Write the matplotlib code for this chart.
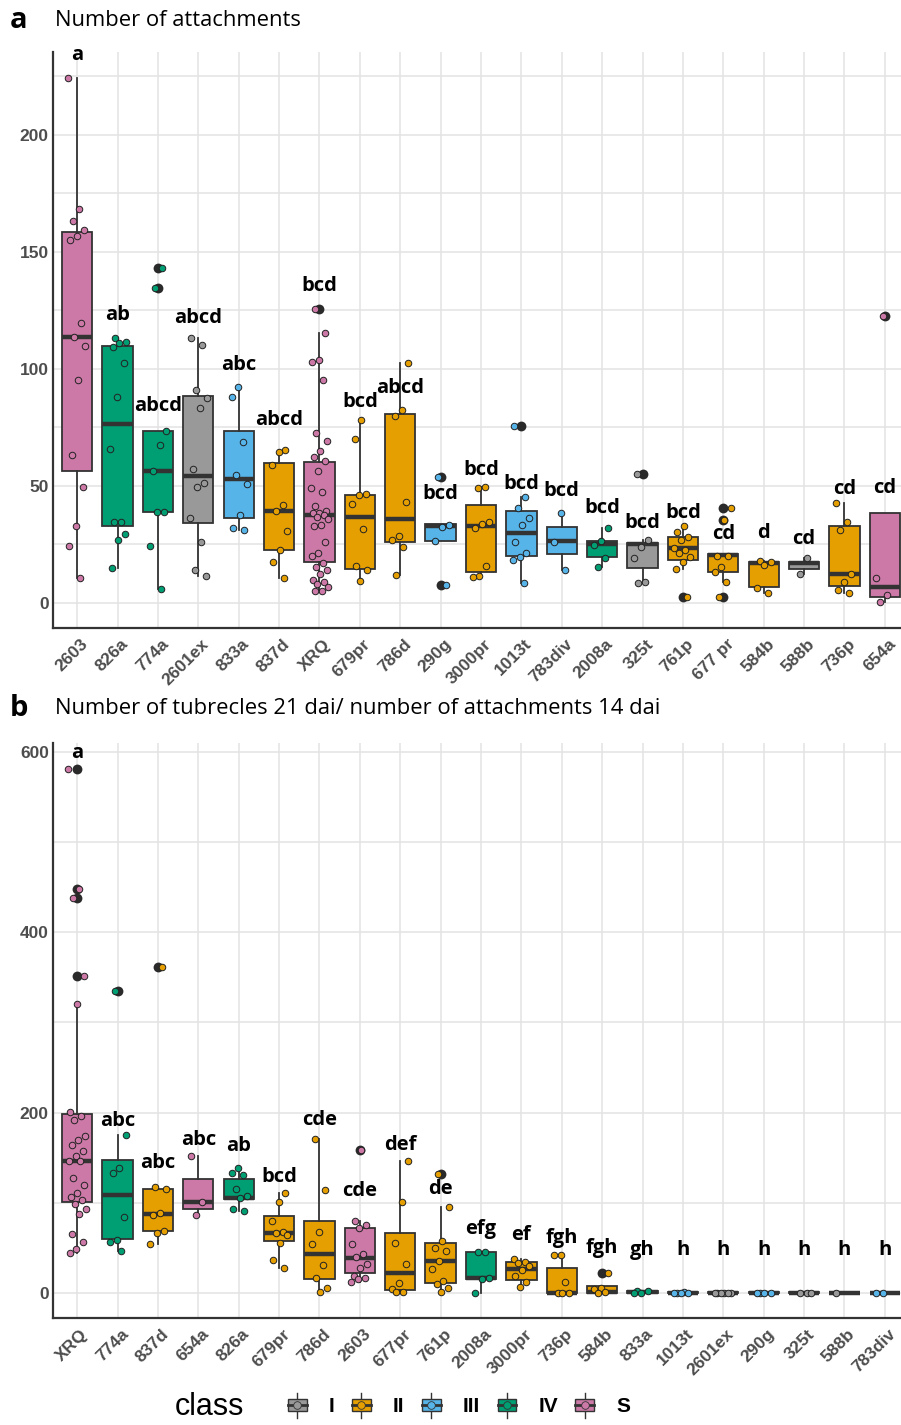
import numpy as np
import matplotlib
matplotlib.use("Agg")
import matplotlib.pyplot as plt
import matplotlib.transforms as mtransforms
from matplotlib.patches import Rectangle
from matplotlib.lines import Line2D
from matplotlib.legend_handler import HandlerBase
from matplotlib.ticker import FixedLocator
from matplotlib.font_manager import FontProperties

# ---------------------------------------------------------------- data
class_names = ["I", "II", "III", "IV", "S"]
class_colors = ["#999999", "#E69F00", "#56B4E9", "#009E73", "#CC79A7"]

# Panel a: number of attachments
cats_a = ["2603", "826a", "774a", "2601ex", "833a", "837d", "XRQ", "679pr", "786d",
          "290g", "3000pr", "1013t", "783div", "2008a", "325t", "761p", "677 pr",
          "584b", "588b", "736p", "654a"]
class_a = ["S", "IV", "IV", "I", "III", "II", "S", "II", "II", "III", "II", "III",
           "III", "IV", "I", "II", "II", "II", "I", "II", "S"]
q1_a = [56.3, 33.0, 38.9, 34.0, 36.1, 22.6, 17.3, 14.5, 25.8, 26.6, 13.3, 20.0,
        20.7, 19.4, 14.7, 18.3, 13.3, 6.6, 14.4, 7.1, 2.6]
med_a = [113.6, 76.4, 56.4, 54.3, 52.9, 39.3, 37.3, 36.6, 35.8, 32.9, 32.6, 30.0,
         26.4, 25.0, 25.0, 23.6, 20.4, 16.9, 16.9, 12.3, 6.9]
q3_a = [158.3, 109.7, 73.3, 88.4, 73.3, 59.6, 60.3, 46.2, 80.6, 33.6, 41.9, 39.4,
        32.4, 26.4, 25.7, 28.3, 20.9, 17.3, 17.6, 32.9, 38.3]
lo_a = [10.4, 15.0, 6.0, 11.3, 31.1, 10.7, 5.0, 9.3, 11.8, 26.6, 11.1, 8.6,
        14.0, 15.4, 8.6, 14.4, 9.0, 4.0, 12.3, 4.3, 0.4]
hi_a = [224.4, 113.3, 73.3, 113.1, 92.3, 65.4, 115.5, 78.3, 102.3, 33.6, 49.4, 45.3,
        38.3, 31.9, 26.9, 32.6, 20.9, 17.9, 19.0, 42.6, 38.3]
pts_a = [
    [224.4, 168.2, 163.1, 159.3, 156.7, 155.0, 119.4, 113.6, 109.6, 95.3, 63.1, 49.3, 32.9, 24.3, 10.4],
    [113.3, 111.4, 111.0, 109.3, 102.6, 87.9, 65.7, 34.3, 34.3, 29.3, 26.9, 15.0],
    [143.1, 134.5, 73.3, 67.3, 56.4, 38.7, 38.9, 24.3, 6.0],
    [113.1, 110.1, 91.1, 87.7, 83.3, 57.1, 51.3, 49.3, 36.1, 26.1, 13.9, 11.3],
    [92.1, 88.0, 68.6, 54.7, 50.9, 37.7, 32.1, 31.1],
    [65.4, 64.6, 59.0, 41.6, 39.4, 30.6, 22.6, 17.6, 10.7],
    [125.4, 115.5, 103.7, 102.7, 95.2, 72.4, 69.0, 65.0, 62.4, 60.4, 56.4, 48.9, 47.3, 41.5,
     39.2, 38.2, 38.2, 37.3, 36.5, 36.0, 33.1, 32.6, 25.8, 21.4, 20.1, 17.0, 15.4, 14.0,
     12.3, 9.8, 8.8, 7.8, 6.7, 5.0, 5.0],
    [78.3, 70.0, 46.6, 46.2, 42.3, 31.5, 15.5, 14.1, 9.3],
    [102.3, 82.2, 80.0, 43.2, 28.5, 26.8, 23.9, 11.8],
    [53.6, 33.1, 32.3, 26.6, 7.6],
    [49.4, 49.1, 34.7, 33.5, 32.1, 15.7, 11.6, 11.1],
    [75.7, 45.3, 40.4, 36.1, 33.1, 26.1, 21.1, 19.7, 18.3, 8.6],
    [38.3, 26.1, 14.0],
    [31.9, 26.4, 24.7, 19.0, 15.4],
    [55.1, 26.9, 24.0, 19.3, 9.0, 8.6],
    [32.6, 30.1, 28.3, 26.9, 23.3, 22.6, 21.4, 19.7, 17.3, 14.4, 2.6],
    [40.4, 35.4, 20.1, 20.1, 15.1, 13.3, 9.0, 2.6],
    [17.9, 17.3, 16.1, 6.4, 4.0],
    [19.0, 12.3],
    [42.6, 34.7, 31.1, 12.3, 8.7, 5.4, 4.3],
    [122.5, 10.4, 3.3, 0.4],
]
letters_a = ["a", "ab", "abcd", "abcd", "abc", "abcd", "bcd", "bcd", "abcd", "bcd", "bcd",
             "bcd", "bcd", "bcd", "bcd", "bcd", "cd", "d", "cd", "cd", "cd"]
letter_y_a = [234, 122.9, 84, 121.5, 101.6, 78.1, 135.3, 85.9, 91.9, 46.5, 56.7, 50.7,
              47.9, 40.3, 33.9, 38.2, 29.4, 29.7, 27.1, 48.5, 48.9]

# Panel b: tubercles at 21 dai per attachment at 14 dai
cats_b = ["XRQ", "774a", "837d", "654a", "826a", "679pr", "786d", "2603", "677pr", "761p",
          "2008a", "3000pr", "736p", "584b", "833a", "1013t", "2601ex", "290g", "325t",
          "588b", "783div"]
class_b = ["S", "IV", "II", "S", "IV", "II", "II", "S", "II", "II", "IV", "II", "II", "II",
           "IV", "III", "I", "III", "I", "I", "III"]
q1_b = [100.7, 59.3, 68.5, 92.6, 104.4, 57.4, 14.8, 22.2, 2.6, 10.4, 15.2, 14.1, 0.0, 0.0,
        0.0, 0.0, 0.0, 0.0, 0.0, 0.0, 0.0]
med_b = [145.9, 108.1, 87.0, 100.7, 105.6, 66.7, 42.5, 38.8, 21.4, 35.1, 15.9, 25.9, 0.0, 1.1,
         0.5, 0.0, 0.0, 0.0, 0.0, 0.0, 0.0]
q3_b = [198.9, 147.4, 115.6, 125.9, 125.9, 85.2, 79.5, 72.1, 66.6, 55.5, 45.5, 34.4, 27.0, 7.4,
        1.5, 0.4, 0.4, 0.4, 0.4, 0.0, 0.0]
lo_b = [44.4, 46.3, 53.7, 85.9, 91.1, 27.8, 0.7, 11.8, 0.7, 0.7, 0.0, 5.9, 0.0, 0.0,
        0.0, 0.0, 0.0, 0.0, 0.0, 0.0, 0.0]
hi_b = [320.9, 175.2, 117.8, 151.9, 138.2, 110.4, 170.8, 79.5, 146.0, 95.4, 45.5, 37.3, 41.8,
        7.4, 2.2, 0.4, 0.4, 0.4, 0.4, 0.0, 0.0]
pts_b = [
    [581.3, 448.2, 437.7, 351.2, 320.9, 201.1, 196.3, 191.5, 174.1, 169.3, 163.7, 157.4, 151.9,
     145.9, 145.9, 127.8, 119.3, 111.1, 106.7, 102.6, 98.1, 92.6, 87.0, 64.8, 56.3, 48.1, 44.4],
    [334.6, 175.2, 138.2, 132.6, 84.4, 58.5, 56.3, 46.3],
    [361.2, 117.8, 115.6, 88.9, 85.9, 68.5, 66.7, 53.7],
    [151.9, 100.7, 85.9],
    [138.2, 133.3, 130.4, 115.6, 107.4, 105.2, 93.3, 91.1],
    [110.4, 100.7, 79.6, 67.4, 66.0, 64.1, 54.8, 36.3, 27.8],
    [170.8, 113.5, 67.7, 54.4, 30.7, 16.6, 4.8, 0.7],
    [158.3, 79.5, 74.7, 72.1, 53.6, 42.5, 39.9, 31.4, 27.7, 18.5, 15.9, 14.8, 11.8],
    [146.0, 100.6, 54.7, 32.2, 10.4, 3.7, 0.7, 0.7],
    [131.3, 95.4, 57.3, 49.2, 46.2, 35.1, 25.9, 12.9, 9.2, 5.5, 0.7],
    [45.5, 45.5, 15.9, 15.2, 0.0],
    [37.3, 34.4, 32.5, 30.0, 25.1, 18.9, 12.2, 5.9],
    [41.8, 41.8, 12.2, 0.0, 0.0, 0.0],
    [22.2, 5.5, 4.1, 1.1, 0.0],
    [2.2, 2.2, 0.0, 0.0],
    [0.3, 0.0, 0.0, 0.2, 0.0],
    [0.0, 0.0, 0.2, 0.0, 0.0, 0.0],
    [0.0, 0.0, 0.0, 0.0],
    [0.0, 0.0, 0.0],
    [0.0],
    [0.0, 0.0],
]
letters_b = ["a", "abc", "abc", "abc", "ab", "bcd", "cde", "cde", "def", "de", "efg", "ef",
             "fgh", "fgh", "gh", "h", "h", "h", "h", "h", "h"]
letter_y_b = [599, 190.4, 144.2, 169.3, 162.6, 128.2, 192.2, 112.7, 164.5, 114.6, 70.2, 63.6,
              61.0, 49.9, 47.3, 47.3, 47.3, 47.3, 47.3, 47.3, 47.3]

# ---------------------------------------------------------------- style
PALETTE = dict(zip(class_names, class_colors))
EDGE = "#333333"
GRID = "#e3e3e3"
TICK_FONT = FontProperties(family="Liberation Sans", weight="bold", size=12.5)

W, H, DPI = 901, 1425, 100
fig = plt.figure(figsize=(W / DPI, H / DPI), dpi=DPI)
fig.patch.set_facecolor("white")


def fx(px):
    return px / W


def fy(py):
    return 1 - py / H


def draw_panel(ax, cats, classes, q1, med, q3, lo, hi, pts, letters, letter_y,
               ylim, major, minor):
    n = len(cats)
    pos = np.arange(1, n + 1)
    stats = []
    for i in range(n):
        stats.append(dict(q1=q1[i], med=med[i], q3=q3[i],
                          whislo=min(lo[i], q1[i]), whishi=max(hi[i], q3[i]),
                          fliers=[]))
    bp = ax.bxp(stats, positions=pos, widths=0.75, patch_artist=True,
                showcaps=False, showfliers=False,
                boxprops=dict(edgecolor=EDGE, linewidth=1.3),
                whiskerprops=dict(color=EDGE, linewidth=1.3),
                medianprops=dict(color=EDGE, linewidth=3.2, solid_capstyle="butt"))
    for patch, c in zip(bp["boxes"], classes):
        patch.set_facecolor(PALETTE[c])
        patch.set_zorder(2)

    for i in range(n):
        v = np.asarray(pts[i], dtype=float)
        wlo, whi = stats[i]["whislo"], stats[i]["whishi"]
        out = v[(v > whi + 0.05) | (v < wlo - 0.05)]
        if out.size:
            ax.scatter(np.full(out.size, pos[i]), out, s=50, color="#2a2a2a",
                       linewidths=0, zorder=3)
        k = np.arange(v.size)
        offs = ((k * 0.618034 + 0.37 * i) % 1.0 - 0.5) * 0.44
        ax.scatter(pos[i] + offs, v, s=22, color=PALETTE[classes[i]],
                   edgecolor="#222222", linewidths=0.7, zorder=4)
        ax.text(pos[i], letter_y[i], letters[i], ha="center", va="center",
                fontsize=14.5, fontweight="bold", family="Open Sans",
                color="black", zorder=5)

    ax.set_xlim(0.4, n + 0.6)
    ax.set_ylim(*ylim)
    ax.set_yticks(major)
    ax.yaxis.set_minor_locator(FixedLocator(minor))
    ax.set_xticks(pos)
    ax.set_xticklabels(cats, rotation=45, ha="right", va="top",
                       rotation_mode="anchor")
    ax.set_axisbelow(True)
    ax.grid(True, which="major", color=GRID, linewidth=1.1)
    ax.grid(True, which="minor", axis="y", color=GRID, linewidth=1.1)
    ax.tick_params(which="both", length=0, colors="#4d4d4d")
    ax.tick_params(axis="y", pad=3)
    ax.tick_params(axis="x", pad=6)
    shift = mtransforms.ScaledTranslation(3 / DPI, 0, fig.dpi_scale_trans)
    for lab in ax.get_xticklabels():
        lab.set_fontproperties(TICK_FONT)
        lab.set_transform(lab.get_transform() + shift)
    for lab in ax.get_yticklabels():
        lab.set_fontproperties(TICK_FONT)
    for side in ("top", "right"):
        ax.spines[side].set_visible(False)
    for side in ("left", "bottom"):
        ax.spines[side].set_color(EDGE)
        ax.spines[side].set_linewidth(1.6)
    ax.set_facecolor("white")


ax_a = fig.add_axes([fx(53), fy(628), fx(909 - 53), (628 - 52) / H])
draw_panel(ax_a, cats_a, class_a, q1_a, med_a, q3_a, lo_a, hi_a, pts_a,
           letters_a, letter_y_a, (-10.8, 235.4),
           [0, 50, 100, 150, 200], [25, 75, 125, 175, 225])

ax_b = fig.add_axes([fx(53), fy(1318), fx(909 - 53), (1318 - 743) / H])
draw_panel(ax_b, cats_b, class_b, q1_b, med_b, q3_b, lo_b, hi_b, pts_b,
           letters_b, letter_y_b, (-28, 610),
           [0, 200, 400, 600], [100, 300, 500])

# panel headings
fig.text(fx(10), fy(20), "a", fontsize=21, fontweight="bold", family="Open Sans",
         ha="left", va="center")
fig.text(fx(55), fy(20), "Number of attachments", fontsize=15.8, family="Open Sans",
         ha="left", va="center")
fig.text(fx(10), fy(709), "b", fontsize=21, fontweight="bold", family="Open Sans",
         ha="left", va="center")
fig.text(fx(55), fy(709), "Number of tubrecles 21 dai/ number of attachments 14 dai",
         fontsize=15.8, family="Open Sans", ha="left", va="center")


# legend key: a miniature box with whisker, median and point
class BoxKey(HandlerBase):
    def create_artists(self, legend, orig_handle, xdescent, ydescent, width,
                       height, fontsize, trans):
        x0, y0 = -xdescent, -ydescent
        cx, cy = x0 + width / 2, y0 + height / 2
        bw, bh = width, height * 0.85
        fc = orig_handle.get_facecolor()
        whisk = Line2D([cx, cx], [cy - height * 0.85, cy + height * 0.85],
                       color=EDGE, lw=1.0, transform=trans)
        box = Rectangle((cx - bw / 2, cy - bh / 2), bw, bh, facecolor=fc,
                        edgecolor=EDGE, lw=1.0, transform=trans)
        medl = Line2D([cx - bw / 2, cx + bw / 2], [cy, cy], color=EDGE, lw=2.0,
                      transform=trans)
        dot = Line2D([cx], [cy], marker="o", markersize=5.5, markerfacecolor=fc,
                     markeredgecolor=EDGE, markeredgewidth=0.6, transform=trans)
        return [whisk, box, medl, dot]


handles = [Rectangle((0, 0), 1, 1, facecolor=c) for c in class_colors]
fig.legend(handles, class_names, loc="center left",
           bbox_to_anchor=(fx(288), fy(1407)), ncol=5, frameon=False,
           prop=FontProperties(family="Liberation Sans", weight="bold", size=15),
           handlelength=0.9, handleheight=0.7, handletextpad=1.05,
           columnspacing=0.85, borderpad=0, borderaxespad=0,
           handler_map={Rectangle: BoxKey()})
fig.text(fx(175), fy(1407), "class", fontsize=22, family="Liberation Sans",
         ha="left", va="center")

fig.savefig("out.png", dpi=DPI, facecolor="white")
